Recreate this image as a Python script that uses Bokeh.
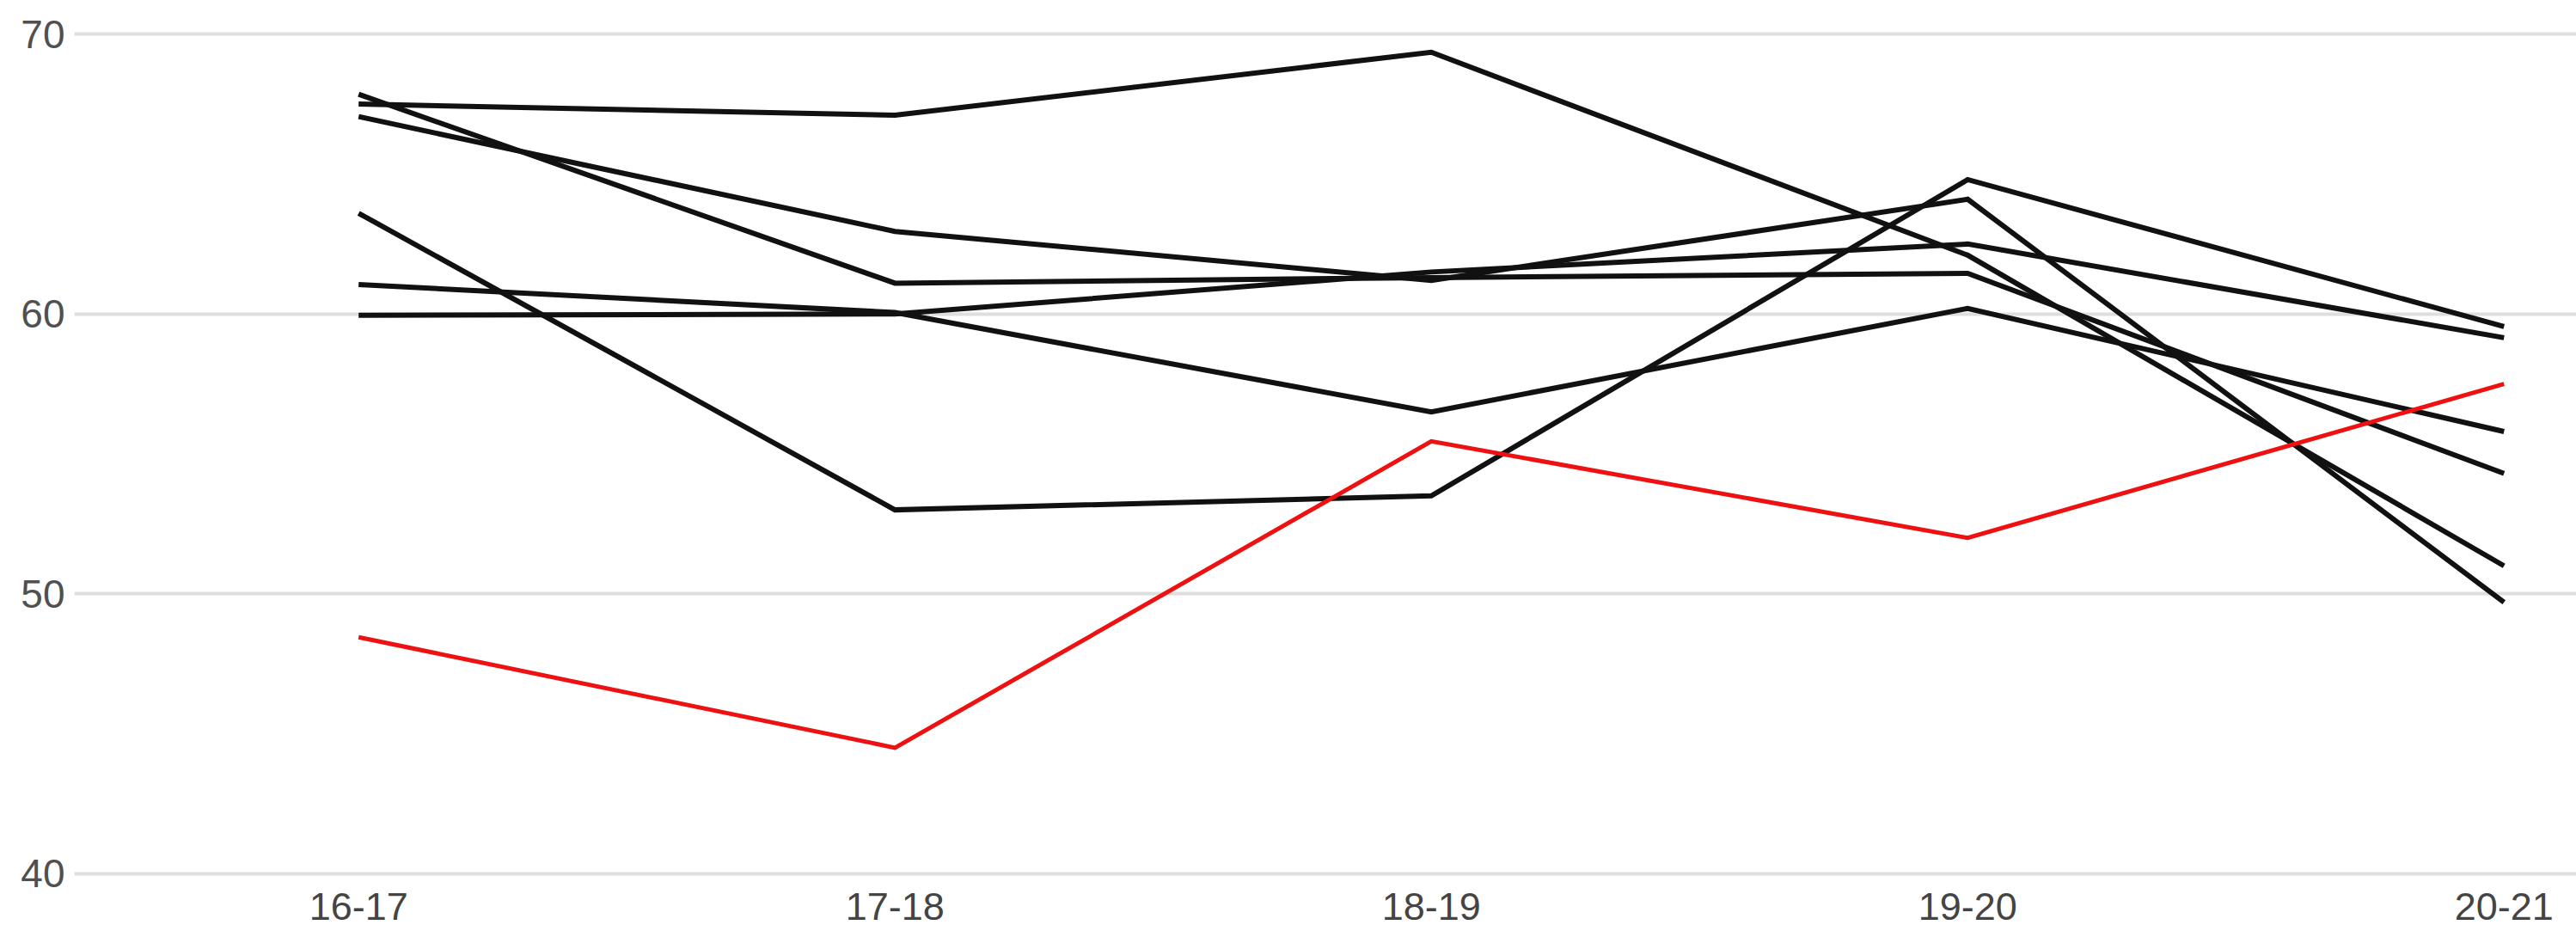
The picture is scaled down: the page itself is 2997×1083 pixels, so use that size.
from bokeh.plotting import figure
from bokeh.models import FixedTicker
from bokeh.embed import file_html
from bokeh.resources import INLINE

categories = ["16-17", "17-18", "18-19", "19-20", "20-21"]

series_a = [67.5, 67.1, 69.35, 62.1, 51.0]
series_b = [67.85, 61.1, 61.3, 61.45, 54.3]
series_c = [67.05, 62.95, 61.2, 64.1, 49.7]
series_d = [63.6, 53.0, 53.5, 64.8, 59.55]
series_e = [61.05, 60.05, 56.5, 60.2, 55.8]
series_f = [59.95, 60.0, 61.5, 62.5, 59.15]
series_red = [48.45, 44.5, 55.45, 52.0, 57.5]

black_series = [series_a, series_b, series_c, series_d, series_e, series_f]

y_ticks = [40, 50, 60, 70]

xs = list(range(len(categories)))

p = figure(width=2997, height=1083, output_backend="svg", toolbar_location=None,
           x_range=(-0.530, 4.135), y_range=(39.75, 70.25),
           min_border_left=86, min_border_right=0, min_border_top=31, min_border_bottom=59)
p.outline_line_color = None
p.background_fill_color = "white"
p.border_fill_color = "white"

p.xgrid.grid_line_color = None
p.ygrid.grid_line_color = "#dedede"
p.ygrid.grid_line_width = 4

p.xaxis.ticker = FixedTicker(ticks=xs)
p.xaxis.major_label_overrides = {i: c for i, c in enumerate(categories)}
p.yaxis.ticker = FixedTicker(ticks=y_ticks)

for ax in (p.xaxis, p.yaxis):
    ax.axis_line_color = None
    ax.major_tick_line_color = None
    ax.minor_tick_line_color = None
    ax.major_tick_out = 0
    ax.major_tick_in = 0
    ax.major_label_text_font = "Liberation Sans"
p.xaxis.major_label_text_font_size = "45px"
p.xaxis.major_label_text_color = "#444444"
p.xaxis.major_label_standoff = 14
p.yaxis.major_label_text_font_size = "46px"
p.yaxis.major_label_text_color = "#505050"
p.yaxis.major_label_standoff = 11

for s in black_series:
    p.line(xs, s, line_color="#111111", line_width=6, line_join="miter")
p.line(xs, series_red, line_color="#ee1111", line_width=5, line_join="miter")

open("out.html", "w").write(file_html(p, INLINE))
